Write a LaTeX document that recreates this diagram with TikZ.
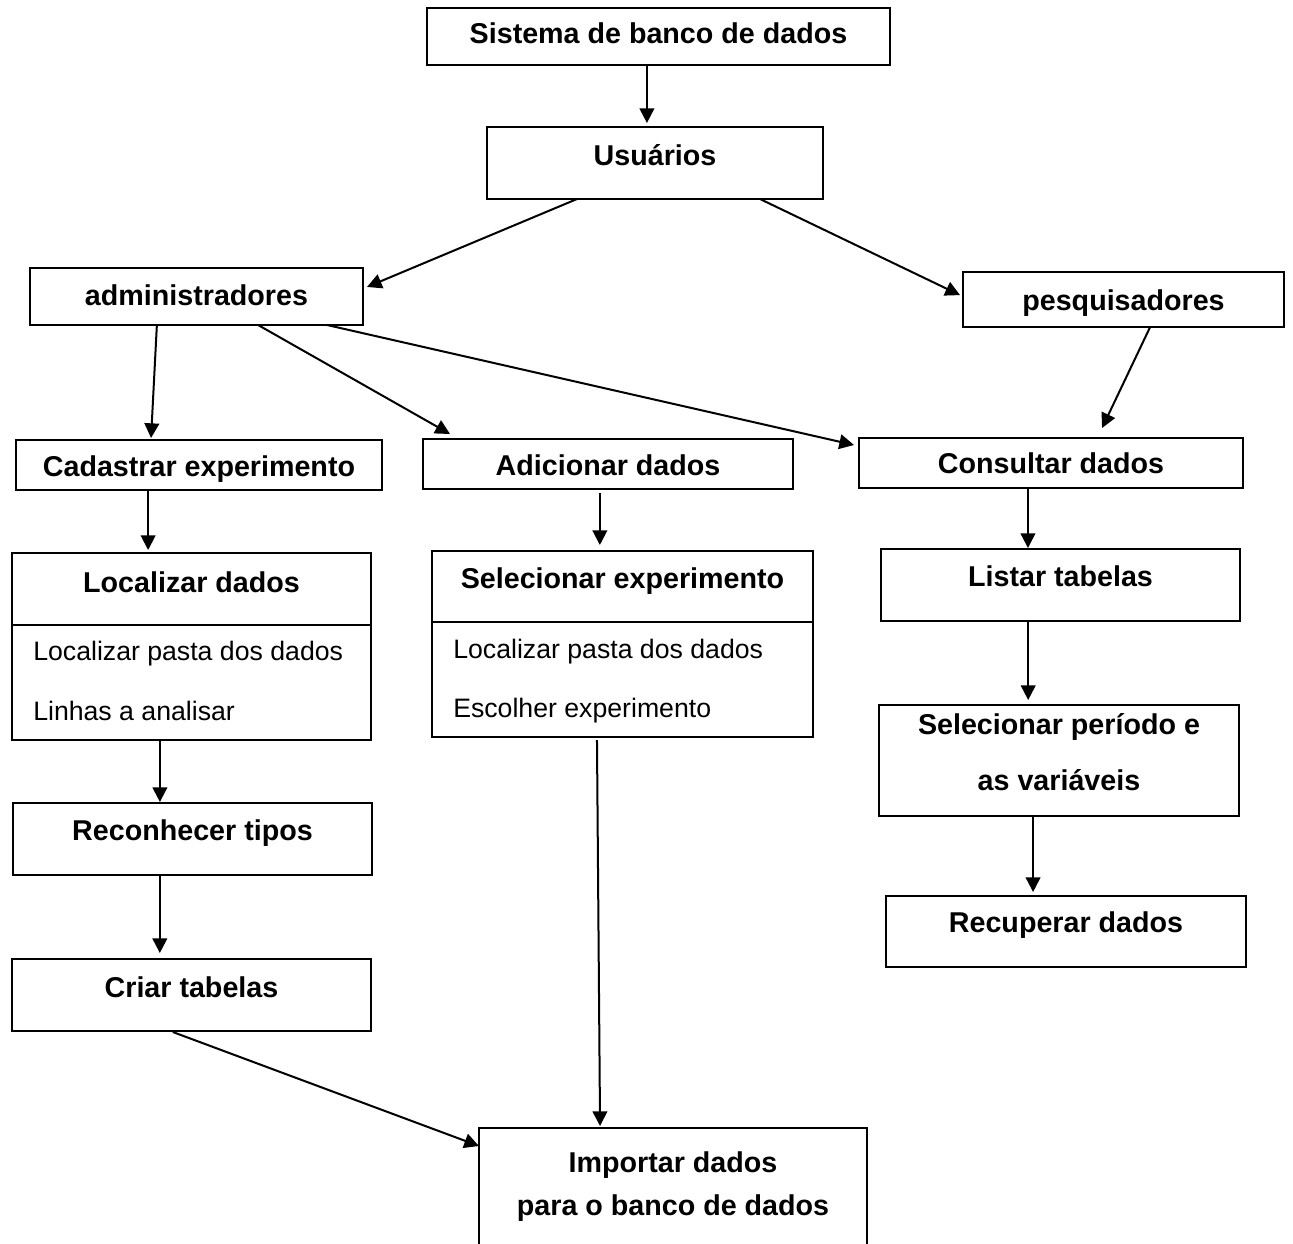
\documentclass[tikz,border=0pt]{standalone}
\usepackage{fontspec}
\setmainfont{Liberation Sans}
\usetikzlibrary{arrows.meta,calc,fit}
\begin{document}
\begin{tikzpicture}[x=0.75pt,y=-0.75pt,
 box/.style={draw, line width=1.5pt, inner sep=0pt, outer sep=0pt},
 ttl/.style={anchor=base, inner sep=0pt, font=\fontsize{21.5}{26}\selectfont\bfseries},
 itm/.style={anchor=base west, inner sep=0pt, font=\fontsize{20}{24}\selectfont},
 arr/.style={line width=1.5pt, -{Triangle[length=11pt,width=11pt]}}]
\fill[white] (0,0) rectangle (1293,1243);
\useasboundingbox (0,0) rectangle (1293,1243);
\clip (0,0) rectangle (1293,1243);

% boxes
\node[box, fit={(427,8) (890,65)}] (sis) {};
\node[box, fit={(487,127) (823,199)}] (usu) {};
\node[box, fit={(30,268) (363,325)}] (adm) {};
\node[box, fit={(963,272) (1284,327)}] (pes) {};
\node[box, fit={(16,440) (382,490)}] (cad) {};
\node[box, fit={(423,439) (793,489)}] (adi) {};
\node[box, fit={(859,438) (1243,488)}] (con) {};
\node[box, fit={(12,553) (371,740)}] (loc) {};
\node[box, fit={(432,551) (813,737)}] (sel) {};
\node[box, fit={(881,549) (1240,621)}] (lis) {};
\node[box, fit={(879,705) (1239,816)}] (sper) {};
\node[box, fit={(886,896) (1246,967)}] (rec) {};
\node[box, fit={(13,803) (372,875)}] (rtp) {};
\node[box, fit={(12,959) (371,1031)}] (cri) {};
\node[box, fit={(479,1128) (867,1270)}] (imp) {};

% dividers
\draw[line width=1.5pt] ($(loc.north west)+(0,72)$) -- ($(loc.north east)+(0,72)$);
\draw[line width=1.5pt] ($(sel.north west)+(0,71)$) -- ($(sel.north east)+(0,71)$);

% texts
\node[ttl] (tsis) at (658.5,43) {Sistema de banco de dados};
\node[ttl] (tusu) at (655,165) {Usuários};
\node[ttl] (tadm) at (196.5,305) {administradores};
\node[ttl] (tpes) at (1123.5,310) {pesquisadores};
\node[ttl] (tcad) at (199,476) {Cadastrar experimento};
\node[ttl] (tadi) at (608,475) {Adicionar dados};
\node[ttl] (tcon) at (1051,473) {Consultar dados};
\node[ttl] (tloc) at (191.5,592) {Localizar dados};
\node[itm] (tloc1) at (33,660) {Localizar pasta dos dados};
\node[itm] (tloc2) at (33,720) {Linhas a analisar};
\node[ttl] (tsel) at (622.5,588) {Selecionar experimento};
\node[itm] (tsel1) at (453,658) {Localizar pasta dos dados};
\node[itm] (tsel2) at (453,717) {Escolher experimento};
\node[ttl] (tlis) at (1060.5,586) {Listar tabelas};
\node[ttl] (tsper1) at (1059,734) {Selecionar período e};
\node[ttl] (tsper2) at (1059,790) {as variáveis};
\node[ttl] (trec) at (1066,932) {Recuperar dados};
\node[ttl] (trtp) at (192.5,840) {Reconhecer tipos};
\node[ttl] (tcri) at (191.5,997) {Criar tabelas};
\node[ttl] (timp1) at (673,1172) {Importar dados};
\node[ttl] (timp2) at (673,1215) {para o banco de dados};

% connectors
\coordinate (c1) at ($(sis.south west)!0.475!(sis.south east)$);
\draw[arr] (c1) -- ($(c1 |- usu.north)+(0,-4)$);

\draw[arr] ($(usu.south west)!0.268!(usu.south east)$) -- ($(adm.north east)!0.333!(adm.south east)+(4,0)$);
\draw[arr] ($(usu.south west)!0.8125!(usu.south east)$) -- ($(pes.north west)!0.42!(pes.south west)+(-3,0)$);

\draw[arr] ($(adm.south west)!0.381!(adm.south east)$) -- ($(cad.north west)!0.369!(cad.north east)+(0,-2)$);
\draw[arr] ($(adm.south west)!0.685!(adm.south east)$) -- ($(adi.north west)!0.073!(adi.north east)+(0,-5)$);
\draw[arr] ($(adm.south west)!0.892!(adm.south east)$) -- ($(con.north west)!0.14!(con.south west)+(-5,0)$);
\draw[arr] ($(pes.south west)!0.583!(pes.south east)$) -- ($(con.north west)!0.633!(con.north east)+(0,-10)$);

\coordinate (c8) at ($(cad.south west)!0.361!(cad.south east)$);
\draw[arr] (c8) -- ($(c8 |- loc.north)+(0,-3)$);
\coordinate (c9) at ($(adi.south west)!0.478!(adi.south east)+(0,4)$);
\draw[arr] (c9) -- ($(c9 |- sel.north)+(0,-6)$);
\coordinate (c10) at ($(con.south west)!0.44!(con.south east)$);
\draw[arr] (c10) -- ($(c10 |- lis.north)+(0,-1)$);
\coordinate (c11) at ($(lis.south west)!0.41!(lis.south east)$);
\draw[arr] (c11) -- ($(c11 |- sper.north)+(0,-5)$);
\coordinate (c12) at ($(sper.south west)!0.428!(sper.south east)$);
\draw[arr] (c12) -- ($(c12 |- rec.north)+(0,-4)$);
\coordinate (c13) at ($(loc.south west)!0.412!(loc.south east)$);
\draw[arr] (c13) -- ($(c13 |- rtp.north)+(0,-1)$);
\coordinate (c14) at ($(rtp.south west)!0.409!(rtp.south east)$);
\draw[arr] (c14) -- ($(c14 |- cri.north)+(0,-6)$);

\draw[arr] ($(cri.south west)!0.448!(cri.south east)+(0,1)$) -- ($(imp.north west)+(0,18)$);
\draw[arr] ($(sel.south west)!0.433!(sel.south east)+(0,3)$) -- ($(imp.north west)!0.312!(imp.north east)+(0,-2)$);
\end{tikzpicture}
\end{document}
